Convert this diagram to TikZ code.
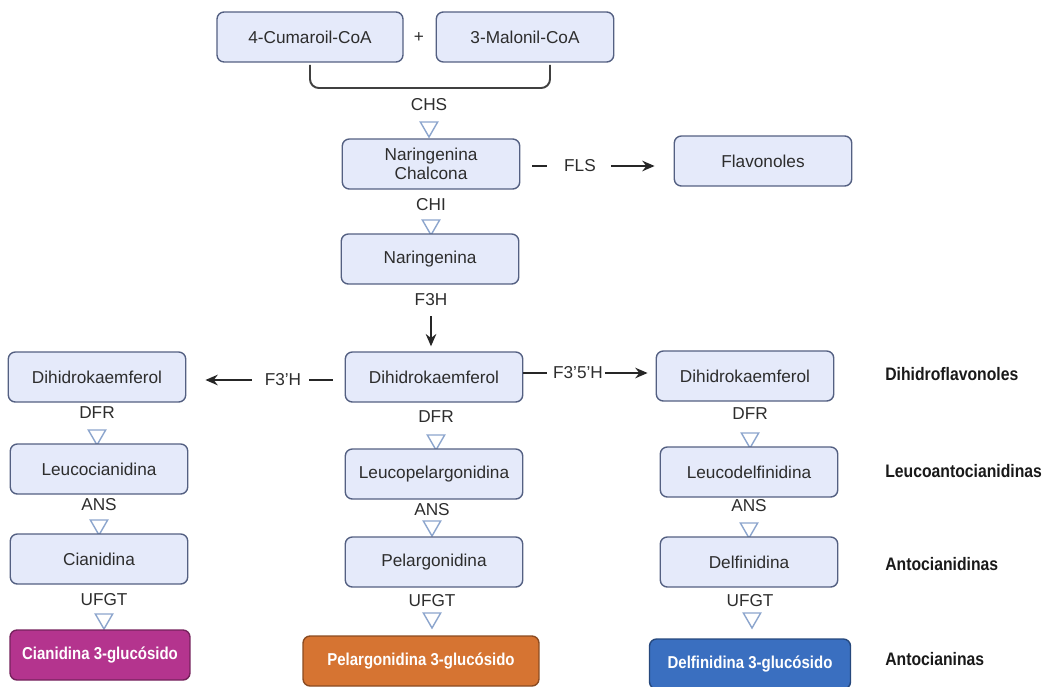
\documentclass[tikz,border=0pt]{standalone}
\usepackage{fontspec}
\setmainfont{Liberation Sans}
\newfontfamily\gfont[FakeStretch=0.87]{Liberation Sans}
\usetikzlibrary{shapes.geometric, arrows.meta, positioning}
\definecolor{boxfill}{RGB}{229,234,250}
\definecolor{boxline}{RGB}{84,96,130}
\definecolor{trigline}{RGB}{140,165,205}
\definecolor{txtgray}{RGB}{45,45,45}
\definecolor{cianmag}{RGB}{180,52,142}
\definecolor{pelorange}{RGB}{214,116,50}
\definecolor{delblue}{RGB}{58,111,192}

\begin{document}
\begin{tikzpicture}[x=0.02cm, y=-0.02cm,
  mbox/.style={draw=boxline, fill=boxfill, rounded corners=4pt, line width=0.8pt, minimum width=3.55cm, minimum height=1cm, align=center, font=\fontsize{9.8}{11}\selectfont, text=txtgray},
  gbox/.style={draw=#1!65!black, fill=#1, rounded corners=4pt, line width=0.8pt, minimum height=1cm, text=white, font=\fontsize{9.8}{11}\selectfont\gfont\bfseries},
  enz/.style={font=\fontsize{9.8}{11}\selectfont, text=txtgray, inner sep=1pt},
  tri/.style={regular polygon, regular polygon sides=3, shape border rotate=180, draw=trigline, line width=0.8pt, fill=white, minimum size=0.4cm, inner sep=0pt},
  grp/.style={font=\fontsize{10.3}{12}\selectfont\gfont\bfseries, text=black!90, anchor=west, inner sep=0pt},
  arr/.style={-{Stealth[length=7pt,width=6pt]}, line width=1.1pt, black!85},
  ln/.style={line width=1.1pt, black!85},
  brk/.style={line width=1.1pt, black!75, rounded corners=5pt}
]
  \useasboundingbox (0,0) rectangle (1053,686);

  \node[mbox, minimum width=3.72cm] (cum) at (310,37) {4-Cumaroil-CoA};
  \node[enz] (plus) at (419,38) {+};
  \node[mbox] (mal) at (525,37) {3-Malonil-CoA};
  \coordinate (brl) at (310,65);
  \coordinate (brr) at (550,65);
  \draw[brk] (brl) -- ++(0,23) -| (brr);

  \node[enz] (chs) at (429,105) {CHS};
  \node[tri] (t1) at (429,127) {};
  \node[mbox] (chal) at (431,164) {Naringenina\\Chalcona};
  \node[enz] (fls) at (580,166) {FLS};
  \node[mbox] (flav) at (763,161) {Flavonoles};
  \draw[ln, shorten <=0.24cm, shorten >=0.3cm] (fls.west -| chal.east) -- (fls.west);
  \draw[arr, shorten <=0.26cm, shorten >=0.38cm] (fls.east) -- (fls.east -| flav.west);

  \node[enz] (chi) at (431,205) {CHI};
  \node[tri] (t2) at (431,225) {};
  \node[mbox] (nar) at (430,259) {Naringenina};
  \node[enz] (f3h) at (431,300) {F3H};
  \node[mbox] (dkc) at (434,377) {Dihidrokaemferol};
  \draw[arr, shorten <=0.16cm, shorten >=0.1cm] (f3h.south) -- (f3h |- dkc.north);

  \node[mbox] (dkl) at (97,377) {Dihidrokaemferol};
  \node[enz] (f3ph) at (283,380) {F3'H};
  \draw[ln, shorten <=0.24cm, shorten >=0.12cm] (f3ph.east -| dkc.west) -- (f3ph.east);
  \draw[arr, shorten <=0.22cm, shorten >=0.38cm] (f3ph.west) -- (f3ph.west -| dkl.east);

  \node[enz] (f35h) at (578,373) {F3'5'H};
  \node[mbox] (dkr) at (745,376) {Dihidrokaemferol};
  \draw[ln, shorten >=0.08cm] (f35h.west -| dkc.east) -- (f35h.west);
  \draw[arr, shorten >=0.16cm] (f35h.east) -- (f35h.east -| dkr.west);
  \node[grp] (gdhf) at (885,374) {Dihidroflavonoles};

  \node[enz] (dfrl) at (97,413) {DFR};
  \node[tri] (t3) at (97,435) {};
  \node[mbox] (lcian) at (99,469) {Leucocianidina};
  \node[enz] (ansl) at (99,505) {ANS};
  \node[tri] (t4) at (99,525) {};
  \node[mbox] (cian) at (99,559) {Cianidina};
  \node[enz] (ufgtl) at (104,600) {UFGT};
  \node[tri] (t5) at (104,619) {};
  \node[gbox=cianmag, minimum width=3.6cm] (cian3g) at (100,655) {Cianidina 3-glucósido};

  \node[enz] (dfrc) at (436,417) {DFR};
  \node[tri] (t6) at (436,440) {};
  \node[mbox] (lpel) at (434,474) {Leucopelargonidina};
  \node[enz] (ansc) at (432,510) {ANS};
  \node[tri] (t7) at (432,526) {};
  \node[mbox] (pel) at (434,562) {Pelargonidina};
  \node[enz] (ufgtc) at (432,601) {UFGT};
  \node[tri] (t8) at (432,618) {};
  \node[gbox=pelorange, minimum width=4.72cm] (pel3g) at (421,661) {Pelargonidina 3-glucósido};

  \node[enz] (dfrr) at (750,414) {DFR};
  \node[tri] (t9) at (750,438) {};
  \node[mbox] (ldel) at (749,472) {Leucodelfinidina};
  \node[enz] (ansr) at (749,506) {ANS};
  \node[tri] (t10) at (749,528) {};
  \node[mbox] (del) at (749,562) {Delfinidina};
  \node[enz] (ufgtr) at (750,601) {UFGT};
  \node[tri] (t11) at (752,618) {};
  \node[gbox=delblue, minimum width=4.02cm] (del3g) at (750,664) {Delfinidina 3-glucósido};

  \node[grp] (glac) at (885,471) {Leucoantocianidinas};
  \node[grp] (gac) at (885,564) {Antocianidinas};
  \node[grp] (gan) at (885,659) {Antocianinas};
\end{tikzpicture}
\end{document}
